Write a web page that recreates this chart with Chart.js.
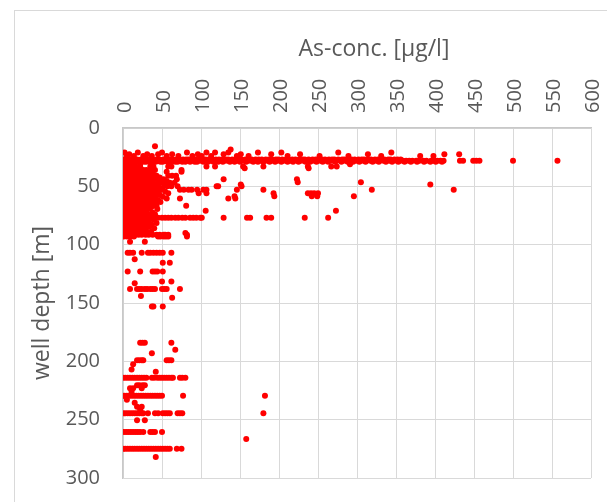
<!DOCTYPE html>
<html>
	<head>
		<title>As-conc. / well depth</title>
		<meta charset="utf-8"/>
		<script src="https://cdn.jsdelivr.net/npm/chart.js@4/dist/chart.umd.min.js"></script>
		<style>
			body { margin: 0; background: #fff; overflow: hidden; }
			#frame { position: absolute; left: 14px; top: 10px; width: 700px; height: 600px; border: 1px solid #d9d9d9; }
			#as_chart { position: absolute; left: 0; top: 0; }
		</style>
	</head>
	<body>
		<div id="frame"></div>
		<canvas id="as_chart" width="607" height="502"></canvas>
		<script>
			const xTitle = 'As-conc. [µg/l]';
			const yTitle = 'well depth [m]';
			const xTicks = [0, 600, 50];		// min, max, step
			const yTicks = [0, 300, 50];

			// shallow wells, incl. the main line at ~28 m
			const upperDepth = [15.6, 18.5, 21, 22.5, 24, 27, 28, 29, 31, 33, 34.5];
			const upperConc = [
				[41],
				[138],
				[2, 19, 50, 82, 107, 118, 135, 173, 203, 276, 344],
				[8, 31, 45, 63, 96, 129, 151, 190, 227, 314, 412, 431],
				[5, 14, 26, 37, 56, 71, 89, 101, 113, 146, 161, 211, 252, 289, 331, 381, 398],
				[0, 3, 7, 11, 14, 18, 23, 26, 31, 35, 38, 43, 47, 52, 55, 60, 64, 69, 72, 77, 81, 84, 89, 93, 98, 101, 106, 110, 114, 119, 123, 127, 132, 135, 140, 144, 149, 152, 157, 162, 165, 170, 174, 178, 183, 187, 191, 196, 199, 204, 209, 212, 217, 221, 226, 230, 233, 238, 243, 247, 250, 255, 259, 264, 268, 271, 276, 281, 284, 289, 293, 297, 302, 306, 309, 314, 318, 323, 327, 330, 335, 340, 343, 348, 352, 356],
				[1, 5, 9, 12, 16, 20, 25, 29, 33, 37, 41, 45, 50, 54, 58, 62, 66, 71, 75, 79, 83, 87, 91, 96, 100, 104, 108, 112, 117, 121, 125, 130, 134, 138, 142, 147, 151, 155, 159, 163, 168, 172, 176, 181, 185, 189, 193, 198, 202, 206, 210, 215, 219, 224, 228, 232, 236, 241, 245, 249, 253, 258, 262, 266, 270, 274, 279, 283, 287, 291, 296, 300, 304, 308, 312, 317, 321, 325, 329, 334, 338, 342, 346, 351, 355, 359, 363, 367, 371, 376, 380, 385, 389, 395, 399, 403, 407, 411, 432, 436, 449, 453, 457, 500, 557],
				[2, 6, 10, 15, 19, 22, 27, 30, 34, 39, 42, 48, 51, 57, 61, 67, 70, 76, 80, 86, 92, 95, 103, 109, 116, 122, 128, 137, 143, 150, 158, 167, 173, 180, 188, 195, 203, 211, 218, 225, 234, 240, 248, 256, 263, 272, 280, 288, 295, 303, 311, 320, 328, 337, 345, 353, 361, 369, 377, 386, 394, 401, 409],
				[4, 12, 22, 291],
				[3, 9, 16, 22, 35, 39, 58, 62, 107, 118, 154, 180, 237, 267, 274],
				[1, 7, 14, 156, 238]
			];

			// dense cluster 36 - 93 m
			const clusterDepth = [36, 37.5, 39, 41, 42.5, 44, 45.5, 46.5, 47, 48.5, 50, 51.5, 53, 54.5, 56, 57.5, 58.6, 59, 60.5, 62, 63.5, 65, 66.6, 68, 69.5, 71, 72.5, 74, 75.5, 77, 78.5, 80, 81.5, 83, 84.5, 86, 87.5, 89, 90, 91.5, 93];
			const clusterConc = [
				[0, 4, 8, 12, 17, 21, 26, 30, 36, 41, 75],
				[2, 6, 10, 15, 19, 24, 28, 56, 75],
				[0, 3, 7, 11, 14, 18, 23, 27, 32, 38],
				[1, 5, 9, 13, 17, 21, 25, 29, 34, 43, 58, 63, 68],
				[0, 4, 8, 12, 16, 20, 24, 31, 37, 47],
				[2, 6, 10, 14, 18, 22, 27, 33, 40, 52, 69, 129, 223],
				[0, 3, 7, 11, 15, 19, 23, 28, 36, 45, 56],
				[224, 305],
				[1, 5, 9, 13, 17, 21, 25, 30, 38, 49, 60, 66],
				[0, 4, 8, 12, 16, 20, 24, 29, 34, 42, 53, 151, 394],
				[2, 6, 10, 14, 18, 22, 27, 32, 39, 45, 57, 62, 70, 120, 122, 152],
				[0, 3, 7, 11, 15, 19, 23, 26, 31, 36, 44, 51],
				[1, 5, 9, 13, 17, 21, 25, 29, 35, 41, 48, 73, 78, 84, 88, 95, 103, 107, 146, 180, 319, 424],
				[0, 4, 8, 12, 16, 20, 24, 28, 33, 39, 46, 54],
				[2, 6, 10, 14, 18, 22, 27, 31, 37, 43, 58, 97, 107, 193, 237, 241, 245, 250],
				[0, 3, 7, 11, 15, 19, 23, 27, 32, 38, 47],
				[143, 194, 242, 249, 296],
				[1, 5, 9, 13, 17, 21, 25, 30, 35, 42, 51],
				[0, 4, 8, 12, 16, 20, 24, 28, 34, 40, 56, 73, 135, 144],
				[2, 6, 10, 14, 18, 22, 26, 31, 37, 45],
				[0, 3, 7, 11, 15, 19, 23, 27, 33, 39, 48],
				[1, 5, 9, 13, 17, 21, 25, 29, 35, 42],
				[0, 4, 8, 12, 16, 20, 24, 28, 39, 43, 81],
				[2, 6, 10, 14, 18, 22, 27, 31, 36],
				[0, 3, 7, 11, 15, 19, 23, 28, 33, 44],
				[1, 5, 9, 13, 17, 21, 25, 30, 106, 273],
				[0, 4, 8, 12, 16, 20, 24, 29, 38],
				[2, 6, 10, 14, 18, 22, 26, 32, 41],
				[0, 3, 7, 11, 15, 19, 23, 27, 35],
				[1, 5, 9, 13, 17, 21, 25, 29, 33, 37, 41, 45, 50, 54, 58, 62, 67, 71, 76, 80, 86, 90, 94, 99, 101, 129, 159, 163, 184, 190, 233, 263],
				[0, 4, 8, 12, 16, 20, 24, 30, 39],
				[2, 6, 10, 14, 18, 22, 27, 33],
				[0, 3, 7, 11, 15, 19, 23, 28, 43],
				[1, 5, 9, 13, 17, 21, 26, 31, 37],
				[0, 4, 8, 12, 16, 20, 25, 34],
				[2, 6, 10, 14, 18, 23, 29, 40],
				[0, 3, 7, 11, 16, 21, 27],
				[1, 5, 9, 13, 18, 24, 31, 36],
				[80],
				[0, 4, 8, 12, 16, 20, 24, 29, 33, 38, 43, 47, 52, 54, 58, 82],
				[1, 5, 9, 14, 45, 48, 52, 55, 58, 82]
			];

			// deep wells
			const deepDepth = [97.5, 107, 112.6, 115.5, 123, 131.6, 133, 138, 144, 145.5, 153, 184, 190, 193, 199, 202.6, 207, 209, 214, 220.5, 223, 226, 229.6, 233, 235.5, 239, 241.5, 244.5, 250.6, 260.5, 266.5, 275, 282];
			const deepConc = [
				[9, 28],
				[6, 9, 13, 24, 32, 35, 39, 43, 47, 51, 62],
				[15],
				[51, 60],
				[6, 22, 38, 41, 44, 51],
				[50, 62],
				[15],
				[9, 18, 21, 24, 28, 31, 35, 38, 41, 50, 53, 56, 73],
				[23],
				[63],
				[37, 39, 51],
				[22, 25, 28, 62],
				[67],
				[37],
				[18, 21, 24, 26, 56, 59, 62],
				[13],
				[11],
				[42],
				[0, 3, 6, 9, 12, 15, 18, 21, 24, 27, 30, 37, 40, 44, 47, 50, 53, 56, 59, 62, 64, 73, 76, 80],
				[18, 21, 25, 28],
				[9, 13, 24],
				[11],
				[0, 2, 5, 8, 11, 14, 17, 20, 23, 26, 29, 32, 35, 38, 41, 44, 47, 50, 77, 182],
				[5],
				[15],
				[18, 24],
				[22],
				[0, 3, 6, 9, 12, 15, 18, 21, 24, 26, 32, 41, 45, 51, 54, 57, 60, 70, 73, 76, 180],
				[18, 28],
				[1, 4, 7, 10, 13, 16, 19, 22, 26, 35, 38, 41, 50],
				[158],
				[0, 3, 6, 9, 12, 15, 18, 21, 24, 27, 30, 33, 36, 39, 42, 45, 48, 51, 54, 57, 60, 69, 75],
				[42]
			];

			function toPoints(depths, concs)
			{
				const pts = [];
				for (let i = 0; i < depths.length; i++)
				{
					for (const c of concs[i])
						pts.push({x: c, y: depths[i]});
				}
				return pts;
			}

			const points = toPoints(upperDepth, upperConc)
				.concat(toPoints(clusterDepth, clusterConc))
				.concat(toPoints(deepDepth, deepConc));

			const grey = '#595959';
			const font = 'Open Sans';

			// x axis title sits a bit right of the plot centre, as in the original
			const topTitle =
			{
				id: 'topTitle',
				afterDraw(chart)
				{
					const ctx = chart.ctx;
					const area = chart.chartArea;
					ctx.save();
					ctx.font = '23px "' + font + '"';
					ctx.fillStyle = grey;
					ctx.textAlign = 'center';
					ctx.textBaseline = 'middle';
					ctx.fillText(xTitle, (area.left + area.right) / 2 + 17, 49);
					ctx.restore();
				}
			};

			const ctx = document.getElementById('as_chart').getContext('2d');
			new Chart(ctx,
			{
				type: 'scatter',
				data:
				{
					datasets:
					[
						{
							data: points,
							backgroundColor: '#ff0000',
							borderWidth: 0,
							pointRadius: 3,
							pointHoverRadius: 3
						}
					]
				},
				options:
				{
					responsive: false,
					animation: false,
					events: [],
					layout: { padding: { left: 0, right: 16, top: 0, bottom: 24 } },
					plugins: { legend: { display: false }, tooltip: { enabled: false } },
					scales:
					{
						x:
						{
							type: 'linear',
							position: 'top',
							min: xTicks[0],
							max: xTicks[1],
							ticks: { stepSize: xTicks[2], minRotation: 90, maxRotation: 90, padding: 15, labelOffset: 26, color: grey, font: { family: font, size: 20 } },
							grid: { color: '#d9d9d9', drawTicks: false },
							border: { color: '#c8c8c8', width: 1.5 },
							afterFit: scale =>
							{
								scale.height = 128;
								scale.paddingLeft = 0;
								scale.paddingRight = 0;
							}
						},
						y:
						{
							type: 'linear',
							reverse: true,
							min: yTicks[0],
							max: yTicks[1],
							ticks: { stepSize: yTicks[2], padding: 23, color: grey, font: { family: font, size: 20 } },
							grid: { color: '#d9d9d9', drawTicks: false },
							border: { color: '#c8c8c8', width: 1.5 },
							title: { display: true, text: yTitle, color: grey, font: { family: font, size: 23 }, padding: { top: 29, bottom: 0 } },
							afterFit: scale =>
							{
								scale.width = 123;
								scale.paddingTop = 0;
								scale.paddingBottom = 0;
							}
						}
					}
				},
				plugins: [topTitle]
			});
		</script>
	</body>
</html>
